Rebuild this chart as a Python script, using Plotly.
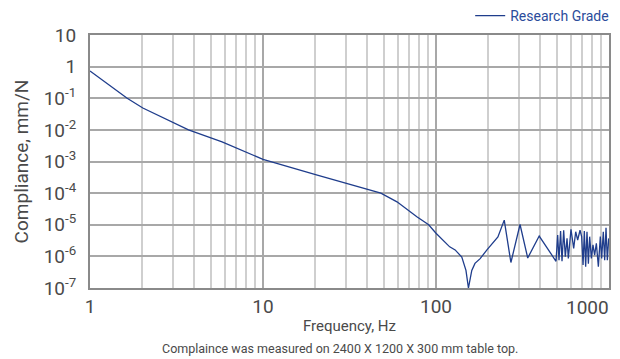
import plotly.graph_objects as go

# Frequency (Hz) and compliance (mm/N)
freq = [1, 1.64, 2.02, 2.70, 3.71, 5.8, 10, 20.6, 30.6, 48, 59.5, 77.5, 90.7,
        100, 120, 129, 141, 149, 154, 161, 168, 180, 197, 228, 248, 271, 306,
        339, 395, 494, 505, 514, 525, 535, 547, 559, 572, 582, 603, 625, 642,
        659, 680, 695, 708, 720, 733, 746, 760, 773, 791, 808, 826, 845, 868,
        891, 907, 927, 944, 961, 978, 996]
compliance = [0.73, 0.1, 0.049, 0.0236, 0.01, 4.2e-3, 1.17e-3, 3.7e-4, 2.0e-4,
              1.0e-4, 5.3e-5, 1.78e-5, 1.0e-5, 5.4e-6, 2.0e-6, 1.6e-6, 9.5e-7,
              3.6e-7, 1.0e-7, 3.6e-7, 6.0e-7, 8.5e-7, 1.6e-6, 4.1e-6, 1.4e-5,
              6.4e-7, 1.02e-5, 8.9e-7, 4.4e-6, 7.0e-7, 4.7e-6, 7.6e-7, 6.3e-6,
              7.0e-7, 6.7e-6, 9.7e-7, 3.7e-6, 8.6e-7, 7.2e-6, 1.8e-6, 6.0e-6,
              3.3e-6, 6.7e-6, 4.2e-6, 5.3e-7, 6.3e-6, 4.7e-7, 6.0e-6, 5.9e-7,
              4.2e-6, 8.6e-7, 2.3e-6, 1.1e-6, 2.6e-6, 4.7e-7, 4.2e-6, 8.6e-7,
              6.0e-6, 7.6e-7, 8.0e-6, 7.6e-7, 3.7e-6]

x_ticks = [1, 10, 100]
x_ticktext = ["1", "10", "100"]
x_last_tick = 1000
x_minor = [m * d for d in (1, 10, 100) for m in range(2, 10)]
y_ticks = [10, 1, 0.1, 1e-2, 1e-3, 1e-4, 1e-5, 1e-6, 1e-7]
y_ticktext = ["10", "1", "10<sup>-1</sup>", "10<sup>-2</sup>", "10<sup>-3</sup>",
              "10<sup>-4</sup>", "10<sup>-5</sup>", "10<sup>-6</sup>", "10<sup>-7</sup>"]

FONT = "Roboto"
BLUE = "#1f3d8c"
TXT = "#4a4a4a"

fig = go.Figure()
fig.add_trace(go.Scatter(x=freq, y=compliance, mode="lines", name="Research Grade",
                         line=dict(color=BLUE, width=1.3)))

# the page body adds an 8px offset, so the figure is 8px smaller and margins shifted
fig.update_layout(
    width=612, height=351,
    margin=dict(l=82, r=11, t=27, b=71, autoexpand=False),
    paper_bgcolor="white", plot_bgcolor="white",
    font=dict(family=FONT, color=TXT),
    showlegend=True,
    legend=dict(orientation="h", x=1.01, xanchor="right", y=1.012, yanchor="bottom",
                font=dict(size=14, color="#2b4c9b", family=FONT),
                itemwidth=30, bgcolor="rgba(0,0,0,0)"),
    xaxis=dict(type="log", range=[0, 3], tickmode="array", tickvals=x_ticks,
               ticktext=x_ticktext, tickfont=dict(size=19, color=TXT),
               showgrid=True, gridcolor="#a8a8a8", gridwidth=1.5,
               minor=dict(tickmode="array", tickvals=x_minor, showgrid=True,
                          gridcolor="#cfcfcf", gridwidth=1.5, ticks=""),
               showline=True, mirror=True, linecolor="#8a8a8a", linewidth=2,
               ticks="", zeroline=False, automargin=False,
               title=dict(text="Frequency, Hz", font=dict(size=15, color=TXT), standoff=4)),
    yaxis=dict(type="log", range=[-7, 1], tickmode="array", tickvals=y_ticks,
               ticktext=y_ticktext, tickfont=dict(size=19, color=TXT),
               showgrid=True, gridcolor="#a8a8a8", gridwidth=1.5,
               showline=True, mirror=True, linecolor="#8a8a8a", linewidth=2,
               ticks="", zeroline=False, ticklabelstandoff=8, automargin=False,
               title=dict(text="Compliance, mm/N", font=dict(size=19, color=TXT), standoff=10)),
)

fig.add_annotation(x=3, xref="x", y=0, yref="paper", text=str(x_last_tick),
                   xanchor="right", yanchor="top", yshift=-6, xshift=2, showarrow=False,
                   font=dict(size=19, color=TXT, family=FONT))
fig.add_annotation(x=0.482, xref="paper", y=-0.24, yref="paper",
                   text="Complaince was measured on 2400 X 1200 X 300 mm table top.",
                   xanchor="center", yanchor="middle", showarrow=False,
                   font=dict(size=12.5, color=TXT, family=FONT))

fig.write_html("out.html")
